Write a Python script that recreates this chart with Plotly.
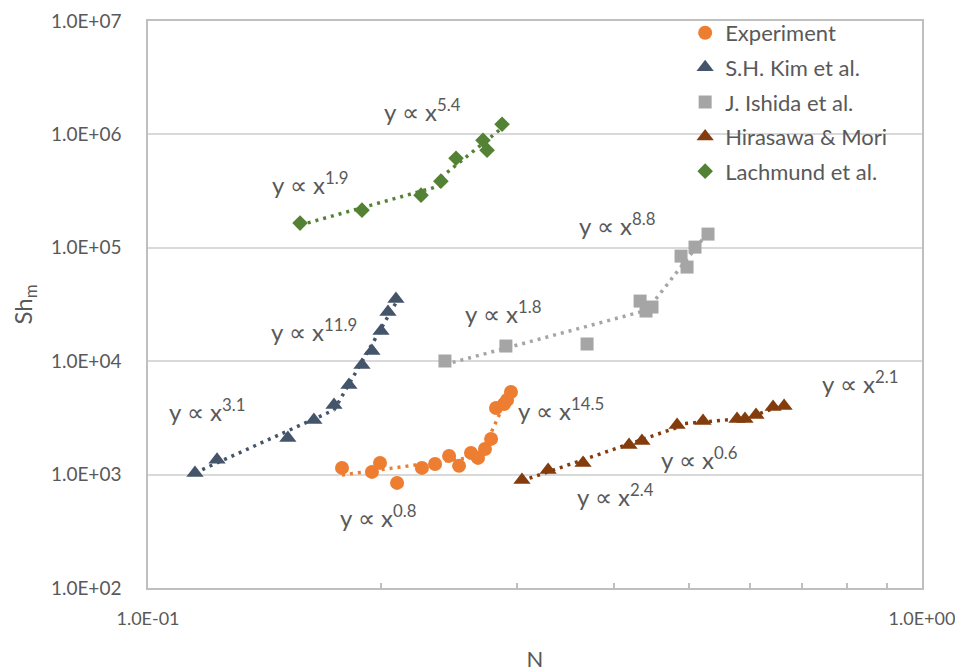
import numpy as np
import plotly.graph_objects as go

# ---------------- data ----------------
exp_N = [0.1781, 0.1947, 0.1994, 0.2098, 0.2259, 0.2349, 0.2449, 0.2523,
         0.2614, 0.2669, 0.2725, 0.2775, 0.2816, 0.2884, 0.2910, 0.2944]
exp_Sh = [1146, 1056, 1268, 845, 1146, 1242, 1462, 1194,
          1553, 1403, 1683, 2064, 3869, 4198, 4550, 5354]

kim_N = [0.1150, 0.1228, 0.1516, 0.1638, 0.1739, 0.1818, 0.1890, 0.1947,
         0.2000, 0.2042, 0.2091]
kim_Sh = [1035, 1349, 2105, 3034, 4111, 6166, 9268, 12300, 18450, 27100, 35300]

ish_N = [0.2419, 0.2900, 0.3692, 0.4323, 0.4400, 0.4479, 0.4883, 0.4971,
         0.5090, 0.5291]
ish_Sh = [10040, 13610, 14180, 33900, 27700, 30040, 84500, 67600, 101400, 132100]

hir_N = [0.3042, 0.3288, 0.3648, 0.4183, 0.4347, 0.4826, 0.5213, 0.5768,
         0.5906, 0.6103, 0.6421, 0.6635]
hir_Sh = [898, 1099, 1268, 1828, 1982, 2742, 2972, 3097, 3097, 3358, 3948, 4030]

lac_N = [0.1572, 0.1890, 0.2253, 0.2390, 0.2500, 0.2709, 0.2742, 0.2867]
lac_Sh = [165100, 214800, 291200, 386900, 616600, 889000, 726000, 1230000]

# index ranges (inclusive) used for each power-law trendline
exp_segs = [(0, 10), (10, 15)]
kim_segs = [(0, 4), (4, 10)]
ish_segs = [(0, 5), (4, 9)]
hir_segs = [(0, 5), (5, 8), (8, 11)]
lac_segs = [(0, 3), (3, 7)]

# trend labels: text exponent, position (N, Sh)
label_exps = ["5.4", "1.9", "8.8", "1.8", "11.9", "3.1", "0.8", "14.5", "0.6", "2.4", "2.1"]
label_N = [0.2266, 0.1619, 0.4036, 0.2874, 0.1638, 0.1192, 0.1982, 0.3417, 0.5151, 0.4012, 0.8317]
label_Sh = [1.633e6, 3.72e5, 1.618e5, 2.71e4, 1.883e4, 3715, 432, 3793, 1403, 662, 6560]

y_tickvals = [1e2, 1e3, 1e4, 1e5, 1e6, 1e7]
y_ticktext = ["1.0E+02", "1.0E+03", "1.0E+04", "1.0E+05", "1.0E+06", "1.0E+07"]
x_tickvals = [0.1, 1.0]
x_ticktext = ["1.0E-01", "1.0E+00"]
x_minor = [0.2, 0.3, 0.4, 0.5, 0.6, 0.7, 0.8, 0.9]

series = [
    ("Experiment", exp_N, exp_Sh, exp_segs, "#ED7D31", "circle", 14),
    ("S.H. Kim et al.", kim_N, kim_Sh, kim_segs, "#44546A", "triangle-up", 15),
    ("J. Ishida et al.", ish_N, ish_Sh, ish_segs, "#A5A5A5", "square", 13),
    ("Hirasawa & Mori", hir_N, hir_Sh, hir_segs, "#843C0C", "triangle-up", 15),
    ("Lachmund et al.", lac_N, lac_Sh, lac_segs, "#548235", "diamond", 12),
]

FONT = "Lato, 'Open Sans', sans-serif"
GREY = "#595959"

fig = go.Figure()

# trendlines (least-squares power fits on each subset)
for name, xs, ys, segs, color, sym, size in series:
    lx = np.log10(np.array(xs))
    ly = np.log10(np.array(ys))
    for a, b in segs:
        k, c = np.polyfit(lx[a:b + 1], ly[a:b + 1], 1)
        x0, x1 = lx[a:b + 1].min(), lx[a:b + 1].max()
        tx = np.array([x0, x1])
        fig.add_trace(go.Scatter(
            x=10 ** tx, y=10 ** (k * tx + c), mode="lines",
            line=dict(color=color, width=3.5, dash="3px,5px"),
            showlegend=False, hoverinfo="skip"))

for i, (name, xs, ys, segs, color, sym, size) in enumerate(series):
    fig.add_trace(go.Scatter(
        x=xs, y=ys, mode="markers", name=name, legendgroup=f"g{i}",
        marker=dict(color=color, symbol=sym, size=size, line=dict(width=0))))

for e, nx, sy in zip(label_exps, label_N, label_Sh):
    fig.add_annotation(x=np.log10(nx), y=np.log10(sy), xref="x", yref="y",
                       text=f"y ∝ x<sup>{e}</sup>", showarrow=False,
                       font=dict(family=FONT, size=24, color=GREY))

# page body has an 8px margin: figure is sized/placed to compensate
fig.update_layout(
    width=955, height=664,
    margin=dict(l=140, r=41, t=13, b=84, autoexpand=False),
    paper_bgcolor="white", plot_bgcolor="white",
    font=dict(family=FONT, color=GREY),
    legend=dict(x=0.694, y=1.016, xanchor="left", yanchor="top",
                bgcolor="rgba(0,0,0,0)", font=dict(size=22, color=GREY),
                tracegroupgap=3, itemwidth=30),
    showlegend=True,
)
fig.update_xaxes(
    type="log", range=[-1, 0], tickmode="array", tickvals=x_tickvals, ticktext=x_ticktext,
    showgrid=True, gridcolor="#D9D9D9", gridwidth=1,
    showline=True, linecolor="#BFBFBF", linewidth=1.5, mirror=True,
    ticks="", ticklabelstandoff=14, zeroline=False, automargin=False,
    tickfont=dict(size=18, color=GREY),
    minor=dict(tickmode="array", tickvals=x_minor, ticks="inside", ticklen=5,
               tickcolor="#BFBFBF", tickwidth=1.5, showgrid=False),
    title=dict(text="N", font=dict(size=22, color=GREY), standoff=30),
)
fig.update_yaxes(
    type="log", range=[2, 7], tickmode="array", tickvals=y_tickvals, ticktext=y_ticktext,
    showgrid=True, gridcolor="#D9D9D9", gridwidth=1.5,
    showline=True, linecolor="#BFBFBF", linewidth=1.5, mirror=True,
    ticks="", ticklabelstandoff=21, zeroline=False, automargin=False,
    tickfont=dict(size=19, color=GREY),
    title=dict(text="Sh<sub>m</sub>", font=dict(size=24, color=GREY), standoff=23),
)

fig.write_html("out.html")
